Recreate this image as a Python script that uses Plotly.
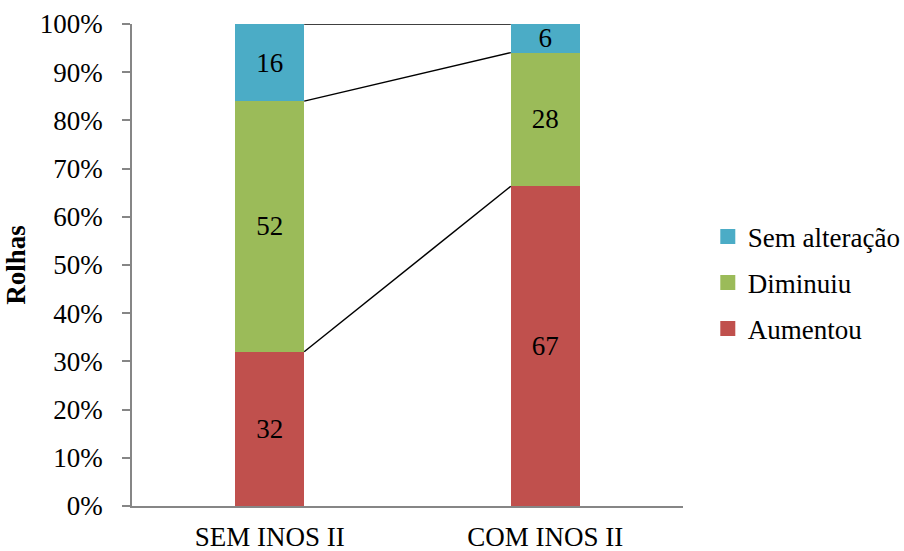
import plotly.graph_objects as go

# Categories and counts per outcome
categories = ["SEM INOS II", "COM INOS II"]
aumentou = [32, 67]
diminuiu = [52, 28]
sem_alteracao = [16, 6]

series = [
    ("Aumentou", aumentou, "#C0504D"),
    ("Diminuiu", diminuiu, "#9BBB59"),
    ("Sem alteração", sem_alteracao, "#4BACC6"),
]

FONT = "Tinos, Liberation Serif, serif"
BAR_W = 0.25
xpos = list(range(len(categories)))

fig = go.Figure()

for name, vals, color in series:
    fig.add_trace(go.Bar(
        x=xpos, y=vals, name=name, width=BAR_W,
        marker=dict(color=color, line=dict(width=0)),
        text=[str(v) for v in vals], textposition="inside", textangle=0,
        insidetextanchor="middle", constraintext="none",
        textfont=dict(family=FONT, size=27, color="black"),
        showlegend=False, hoverinfo="skip",
    ))

# Series lines joining the segment tops of adjacent bars (percent of total)
totals = [sum(s[1][i] for s in series) for i in range(len(categories))]
cum = [0.0] * len(categories)
for name, vals, color in series:
    cum = [cum[i] + vals[i] * 100.0 / totals[i] for i in range(len(categories))]
    for i in range(len(categories) - 1):
        fig.add_trace(go.Scatter(
            x=[xpos[i] + BAR_W / 2, xpos[i + 1] - BAR_W / 2],
            y=[cum[i], cum[i + 1]], mode="lines",
            line=dict(color="black", width=1.5),
            showlegend=False, hoverinfo="skip", cliponaxis=False,
        ))

# Legend entries (top to bottom)
for name, vals, color in reversed(series):
    fig.add_trace(go.Scatter(
        x=[None], y=[None], mode="markers", name=name,
        marker=dict(symbol="square", size=15, color=color),
        legendgroup=name,
    ))

fig.update_layout(
    barmode="stack", barnorm="percent",
    width=904, height=551,
    margin=dict(l=132, r=221, t=24, b=45, autoexpand=False),
    paper_bgcolor="white", plot_bgcolor="white",
    font=dict(family=FONT, size=27, color="black"),
    legend=dict(x=1.045, y=0.463, xanchor="left", yanchor="middle",
                tracegroupgap=8, font=dict(size=27, family=FONT),
                itemsizing="trace"),
    xaxis=dict(range=[-0.5, 1.5], tickvals=xpos, ticktext=categories,
               showgrid=False, zeroline=False, showline=True,
               linecolor="#868686", linewidth=1.5, ticks="",
               ticklabelstandoff=6, automargin=False),
    yaxis=dict(range=[0, 100], dtick=10, ticksuffix="%",
               showgrid=False, zeroline=False, showline=True,
               linecolor="#868686", linewidth=1.5,
               ticks="outside", ticklen=8, tickcolor="#868686", tickwidth=1.5,
               ticklabelstandoff=14, automargin=False,
               title=dict(text="<b>Rolhas</b>", standoff=6,
                          font=dict(size=27, family=FONT))),
)

fig.write_html("out.html")
